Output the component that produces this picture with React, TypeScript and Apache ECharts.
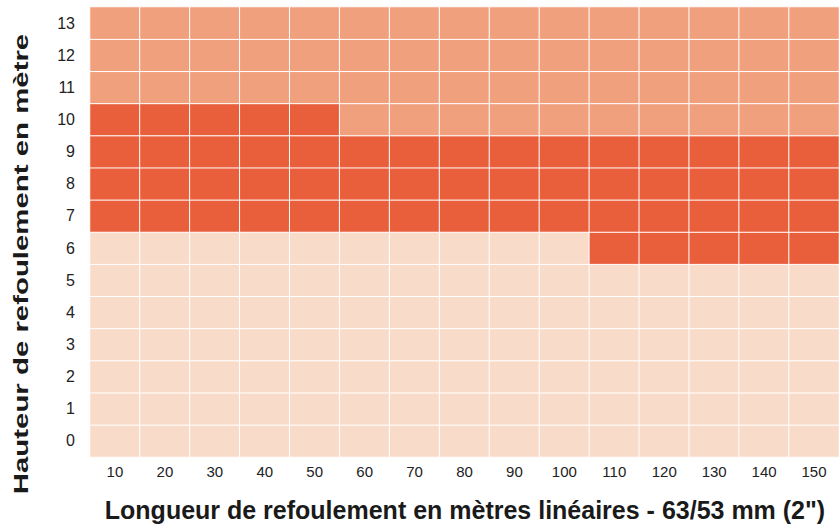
import React, { useEffect, useRef } from "react";
import * as echarts from "echarts";

const xLabels = ["10", "20", "30", "40", "50", "60", "70", "80", "90", "100", "110", "120", "130", "140", "150"];
const yLabels = ["0", "1", "2", "3", "4", "5", "6", "7", "8", "9", "10", "11", "12", "13"];
// 0 = light, 1 = dark, 2 = medium ; one row per y label (bottom to top)
const row0 = [0, 0, 0, 0, 0, 0, 0, 0, 0, 0, 0, 0, 0, 0, 0];
const row1 = [0, 0, 0, 0, 0, 0, 0, 0, 0, 0, 0, 0, 0, 0, 0];
const row2 = [0, 0, 0, 0, 0, 0, 0, 0, 0, 0, 0, 0, 0, 0, 0];
const row3 = [0, 0, 0, 0, 0, 0, 0, 0, 0, 0, 0, 0, 0, 0, 0];
const row4 = [0, 0, 0, 0, 0, 0, 0, 0, 0, 0, 0, 0, 0, 0, 0];
const row5 = [0, 0, 0, 0, 0, 0, 0, 0, 0, 0, 0, 0, 0, 0, 0];
const row6 = [0, 0, 0, 0, 0, 0, 0, 0, 0, 0, 1, 1, 1, 1, 1];
const row7 = [1, 1, 1, 1, 1, 1, 1, 1, 1, 1, 1, 1, 1, 1, 1];
const row8 = [1, 1, 1, 1, 1, 1, 1, 1, 1, 1, 1, 1, 1, 1, 1];
const row9 = [1, 1, 1, 1, 1, 1, 1, 1, 1, 1, 1, 1, 1, 1, 1];
const row10 = [1, 1, 1, 1, 1, 2, 2, 2, 2, 2, 2, 2, 2, 2, 2];
const row11 = [2, 2, 2, 2, 2, 2, 2, 2, 2, 2, 2, 2, 2, 2, 2];
const row12 = [2, 2, 2, 2, 2, 2, 2, 2, 2, 2, 2, 2, 2, 2, 2];
const row13 = [2, 2, 2, 2, 2, 2, 2, 2, 2, 2, 2, 2, 2, 2, 2];
const rows = [row0, row1, row2, row3, row4, row5, row6, row7, row8, row9, row10, row11, row12, row13];

const xName = "Longueur de refoulement en mètres linéaires - 63/53 mm (2\")";
const yName = "Hauteur de refoulement en mètre";

const FONT = "'Liberation Sans', Arial, Helvetica, sans-serif";

export default function App() {
  const ref = useRef<HTMLDivElement>(null);
  useEffect(() => {
    if (!ref.current) return;
    const chart = echarts.init(ref.current, null, { renderer: "svg" });
    const data: number[][] = [];
    rows.forEach((r, yi) => r.forEach((v, xi) => data.push([xi, yi, v])));
    chart.setOption({
      animation: false,
      textStyle: { fontFamily: FONT },
      grid: { left: 90, right: 0, top: 7, bottom: 67 },
      xAxis: {
        type: "category",
        data: xLabels,
        axisLine: { show: false },
        axisTick: { show: false },
        splitLine: { show: false },
        axisLabel: { color: "#222", fontSize: 15, margin: 7, fontFamily: FONT },
      },
      yAxis: {
        type: "category",
        data: yLabels,
        axisLine: { show: false },
        axisTick: { show: false },
        splitLine: { show: false },
        axisLabel: { color: "#222", fontSize: 16, margin: 15, fontFamily: FONT },
      },
      visualMap: {
        show: false,
        type: "piecewise",
        dimension: 2,
        pieces: [
          { value: 0, color: "#F9DBCA" },
          { value: 1, color: "#E95F3C" },
          { value: 2, color: "#F1A07E" },
        ],
      },
      series: [
        {
          type: "heatmap",
          data,
          itemStyle: { borderColor: "#ffffff", borderWidth: 1 },
          emphasis: { disabled: true },
        },
      ],
      graphic: [
        {
          type: "text",
          x: 465,
          y: 510,
          style: {
            text: xName,
            font: `bold 25px ${FONT}`,
            fill: "#1a1a1a",
            align: "center",
            verticalAlign: "middle",
          },
        },
        {
          type: "text",
          x: 21,
          y: 264,
          rotation: Math.PI / 2,
          scaleX: 1.4,
          style: {
            text: yName,
            font: `bold 21px ${FONT}`,
            fill: "#1a1a1a",
            align: "center",
            verticalAlign: "middle",
          },
        },
      ],
    });
    return () => chart.dispose();
  }, []);
  return <div ref={ref} style={{ width: 839, height: 524, position: "absolute", left: 0, top: 0 }} />;
}
